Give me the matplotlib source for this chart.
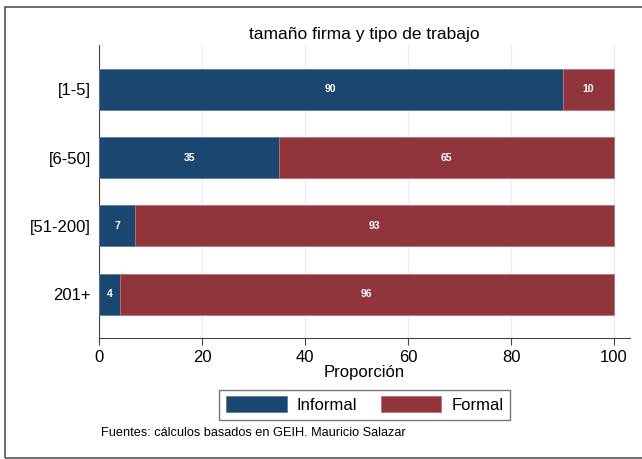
import matplotlib.pyplot as plt
from matplotlib.patches import Rectangle

plt.rcParams['font.family'] = ['Liberation Sans', 'DejaVu Sans']

categories = ['[1-5]', '[6-50]', '[51-200]', '201+']
informal = [90, 35, 7, 4]
formal = [10, 65, 93, 96]

navy = '#1a476f'
maroon = '#90353b'

fig = plt.figure(figsize=(6.42, 4.59), dpi=100)
ax = fig.add_axes([0.1542, 0.2636, 0.8271, 0.6384])

ypos = list(range(len(categories)))
b1 = ax.barh(ypos, informal, height=0.6, color=navy, edgecolor='#5a7fa0', linewidth=0.6, label='Informal', zorder=3)
b2 = ax.barh(ypos, formal, left=informal, height=0.6, color=maroon, edgecolor='#c07075', linewidth=0.6, label='Formal', zorder=3)

for i in ypos:
    ax.text(informal[i] / 2, i, str(informal[i]), color='white', fontsize=7.5,
            fontweight='bold', ha='center', va='center', zorder=4)
    ax.text(informal[i] + formal[i] / 2, i, str(formal[i]), color='white', fontsize=7.5,
            fontweight='bold', ha='center', va='center', zorder=4)

ax.set_xlim(0, 103.1)
ax.set_ylim(3.64, -0.65)
ax.set_yticks(ypos)
ax.set_yticklabels(categories, fontsize=12)
ax.set_xticks([0, 20, 40, 60, 80, 100])
ax.tick_params(axis='x', labelsize=12, length=5, color='#444444')
ax.tick_params(axis='y', length=0, pad=6)
ax.grid(axis='x', color='#e4eef2', linewidth=0.9, zorder=0)
for s in ['top', 'right']:
    ax.spines[s].set_visible(False)
ax.spines['left'].set_color('#444444')
ax.spines['bottom'].set_color('#444444')
ax.set_xlabel('Proporción', fontsize=12, labelpad=0)
ax.set_title('tamaño firma y tipo de trabajo', fontsize=12.5, pad=4)

fig.legend(handles=[b1, b2], loc='center', bbox_to_anchor=(0.568, 0.1187), ncol=2,
           fontsize=12, frameon=True, fancybox=False, edgecolor='#555555',
           handlelength=3.65, handleheight=1.1, handletextpad=0.6,
           columnspacing=1.4, borderpad=0.4)

fig.text(101 / 642, 1 - 433 / 459, 'Fuentes: cálculos basados en GEIH. Mauricio Salazar',
         fontsize=9.2, va='center', ha='left')

fig.patches.append(Rectangle((5 / 642, 1 / 459), 640 / 642, 451 / 459, transform=fig.transFigure,
                             fill=False, edgecolor='#555555', linewidth=1.2))

fig.savefig('out.png', dpi=100)
